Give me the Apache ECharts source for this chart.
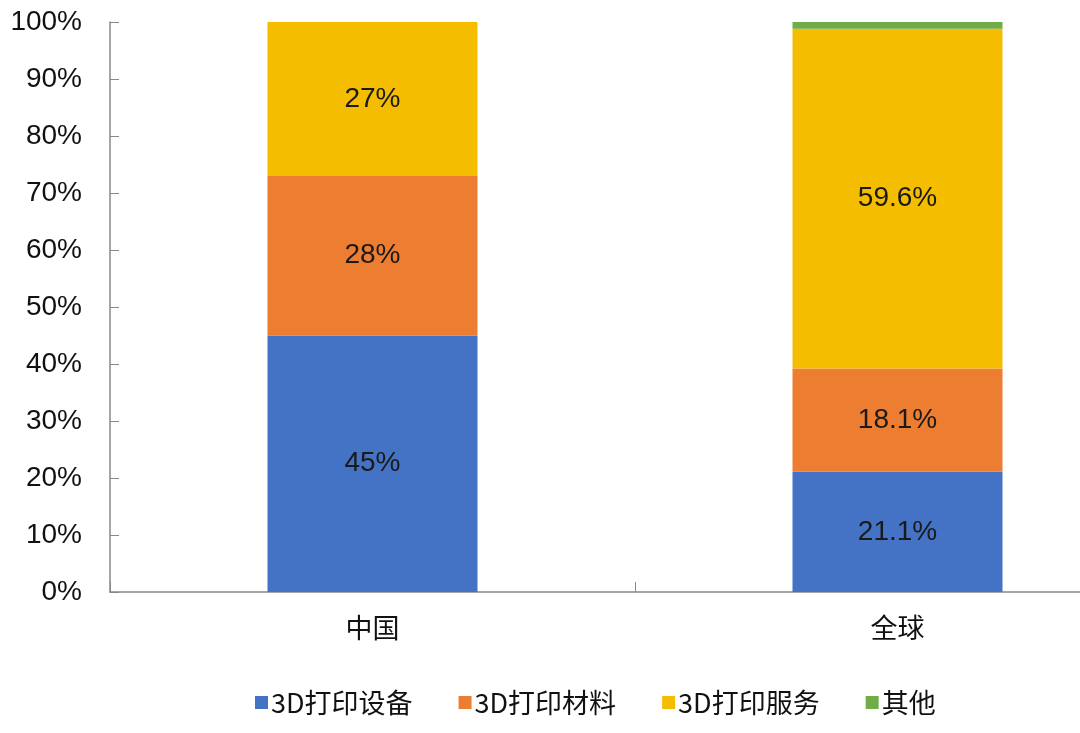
<!DOCTYPE html>
<html>
<head>
<meta charset="utf-8">
<script src="https://cdn.jsdelivr.net/npm/echarts@6/dist/echarts.min.js"></script>
<style>
html,body{margin:0;padding:0;background:#fff;}
#main{width:1080px;height:733px;}
</style>
</head>
<body>
<div id="main"></div>
<script>
// 类别与各系列占比（%）
var regions = ['中国', '全球'];
var equipment = [45, 21.1];
var materials = [28, 18.1];
var services = [27, 59.6];
var others = [0, 1.2];
var equipmentLabels = ['45%', '21.1%'];
var materialsLabels = ['28%', '18.1%'];
var servicesLabels = ['27%', '59.6%'];

var colors = ['#4472c4', '#ed7d31', '#f5bd00', '#70ad47'];

function makeSeries(name, data, labels, color) {
    return {
        name: name,
        type: 'bar',
        stack: 'total',
        barWidth: 210,
        data: data,
        itemStyle: {color: color},
        label: {
            show: !!labels,
            position: 'inside',
            color: '#1a1a1a',
            fontSize: 28,
            fontFamily: 'Liberation Sans, Arial, sans-serif',
            formatter: function (p) {
                return labels ? labels[p.dataIndex] : '';
            }
        }
    };
}

var option = {
    animation: false,
    color: colors,
    grid: {
        left: 110,
        width: 1050,
        top: 22,
        bottom: 141,
        outerBoundsMode: 'none'
    },
    legend: {
        bottom: 12,
        left: 250,
        itemWidth: 13,
        itemHeight: 13,
        itemGap: 46,
        icon: 'rect',
        textStyle: {
            fontSize: 27,
            color: '#111',
            fontFamily: 'Noto Sans CJK SC, sans-serif',
            padding: [0, 0, 0, -2]
        },
        data: ['3D打印设备', '3D打印材料', '3D打印服务', '其他']
    },
    xAxis: {
        type: 'category',
        data: regions,
        axisLine: {lineStyle: {color: '#888', width: 1.5}},
        axisTick: {show: true, inside: true, length: 10, lineStyle: {color: '#888'}},
        axisLabel: {
            fontSize: 27,
            color: '#111',
            margin: 22,
            fontFamily: 'Noto Sans CJK SC, sans-serif'
        }
    },
    yAxis: {
        type: 'value',
        min: 0,
        max: 100,
        interval: 10,
        axisLine: {show: true, lineStyle: {color: '#888', width: 1.5}},
        axisTick: {show: true, inside: true, length: 9, lineStyle: {color: '#888'}},
        splitLine: {show: false},
        axisLabel: {
            fontSize: 28,
            color: '#111',
            margin: 28,
            fontFamily: 'Liberation Sans, Arial, sans-serif',
            formatter: '{value}%'
        }
    },
    series: [
        makeSeries('3D打印设备', equipment, equipmentLabels, colors[0]),
        makeSeries('3D打印材料', materials, materialsLabels, colors[1]),
        makeSeries('3D打印服务', services, servicesLabels, colors[2]),
        makeSeries('其他', others, null, colors[3])
    ]
};

var myChart = echarts.init(document.getElementById('main'));
myChart.setOption(option);
</script>
</body>
</html>
